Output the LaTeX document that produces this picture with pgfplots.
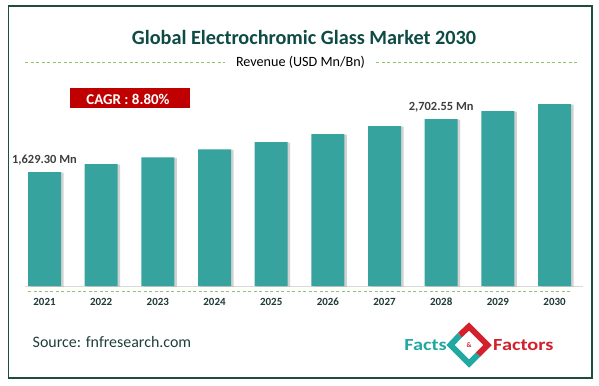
\documentclass[border=0pt]{standalone}
\usepackage{fontspec}
\setmainfont{Carlito}
\usepackage{pgfplots}
\pgfplotsset{compat=1.18}
\usepackage{pgfplotstable}
\usetikzlibrary{shadows}
\definecolor{framec}{HTML}{1D4D40}
\definecolor{titlec}{HTML}{0E4B44}
\definecolor{barc}{HTML}{36A39F}
\definecolor{cagrc}{HTML}{C00000}
\definecolor{dashc}{HTML}{8CC56A}
\definecolor{basec}{HTML}{D9D9D9}
\definecolor{labc}{HTML}{3F3F3F}
\definecolor{yearc}{HTML}{1E3B36}
\definecolor{srcc}{HTML}{1F3F3A}
\definecolor{logoteal}{HTML}{22A8A2}
\definecolor{logored}{HTML}{D2202C}

% revenue, USD Mn (2021 and 2028 labelled; others)
\pgfplotstableread{
i v
0 1629.30
1 1791
2 1927
3 2090
4 2237
5 2399
6 2561
7 2702.55
8 2865
9 3006
}\datatable

\begin{document}
\begin{tikzpicture}[x=1bp,y=1bp]
\fill[white] (0,0) rectangle (599,385);
\draw[framec, line width=1.2bp] (8.5,7) rectangle (592,379);

% title and subtitle
\node[anchor=base, text=titlec, font=\fontsize{20.3}{21}\selectfont\bfseries, inner sep=0pt] at (304,341) {Global Electrochromic Glass Market 2030};
\node[anchor=base, text=black, font=\fontsize{14.2}{14}\selectfont, inner sep=0pt] at (300.5,318.3) {Revenue (USD Mn/Bn)};
\draw[dashc, line width=0.8bp, dash pattern=on 3bp off 2.5bp] (25,322.3) -- (225,322.3);
\draw[dashc, line width=0.8bp, dash pattern=on 3bp off 2.5bp] (376,322.3) -- (578,322.3);

% CAGR box
\fill[cagrc] (70,297) rectangle (190,277);
\node[anchor=base, text=white, font=\fontsize{15}{15}\selectfont\bfseries, inner sep=0pt] at (128,281) {CAGR : 8.80\%};

% baseline and dashed line below
\draw[basec, line width=1bp] (25,99) -- (583,99);
\draw[dashc, line width=0.8bp, dash pattern=on 3bp off 2.5bp] (28,93.3) -- (570,93.3);

\begin{axis}[
  at={(16.17bp,99bp)}, anchor=south west,
  scale only axis, width=566.7bp, height=197.5bp,
  xmin=-0.5, xmax=9.5, ymin=0, ymax=4000,
  axis line style={draw=none},
  ytick=\empty,
  xtick={0,...,9},
  xticklabels={2021,2022,2023,2024,2025,2026,2027,2028,2029,2030},
  major tick length=0pt,
  xticklabel style={anchor=base, yshift=-19bp, inner sep=0pt, text=yearc, font=\fontsize{11}{11}\selectfont\bfseries},
  clip=false,
]
\addplot[ybar, bar width=33bp, fill=barc, draw=none,
  drop shadow={shadow xshift=2.5bp, shadow yshift=-0.5bp, opacity=0.35}]
  table[x=i, y expr=\thisrow{v}+679] {\datatable};
\node[anchor=base, text=labc, font=\fontsize{12.5}{12.5}\selectfont\bfseries, inner sep=0pt, yshift=9bp] at (axis cs:0,2308.3) {1,629.30 Mn};
\node[anchor=base, text=labc, font=\fontsize{12.5}{12.5}\selectfont\bfseries, inner sep=0pt, yshift=9bp] at (axis cs:7,3381.55) {2,702.55 Mn};
\end{axis}

% source
\node[anchor=base west, text=srcc, font=\fontsize{16}{16}\selectfont, inner sep=0pt] at (32.5,37.5) {Source: fnfresearch.com};

% logo
\draw[logoteal, line width=6bp, line cap=butt, line join=miter] (460,50) -- (450.5,40) -- (469,21.5) -- (478,30.5);
\draw[logored, line width=6bp, line cap=butt, line join=miter] (460,50) -- (469,58.5) -- (487.5,40) -- (478,30.5);
\node[text=logored, font=\fontsize{7}{7}\selectfont\bfseries, inner sep=0pt] at (469,40) {\&};
\node[anchor=base east, text=logoteal, font=\fontsize{17}{17}\selectfont\bfseries, inner sep=0pt, xscale=1.2, transform shape] at (447,34.5) {Facts};
\node[anchor=base west, text=logored, font=\fontsize{17}{17}\selectfont\bfseries, inner sep=0pt, xscale=1.2, transform shape] at (493,34.5) {Factors};
\end{tikzpicture}
\end{document}
